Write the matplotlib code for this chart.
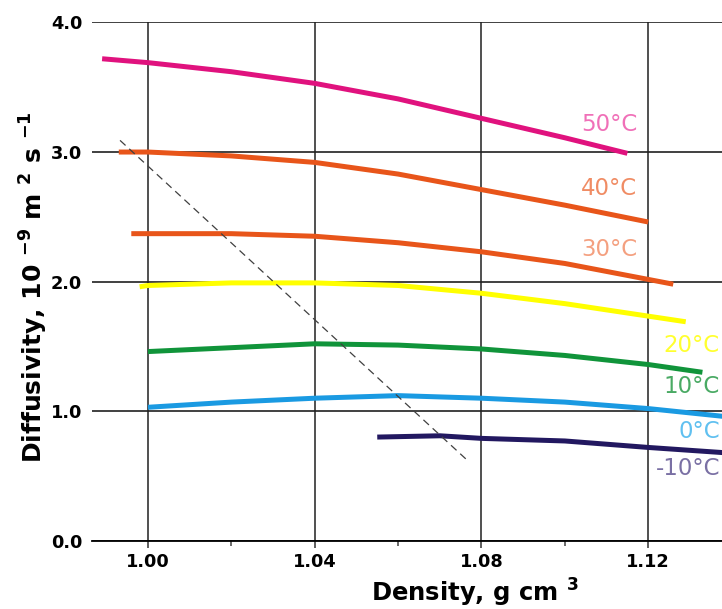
import matplotlib
matplotlib.use("Agg")
import matplotlib.pyplot as plt
from matplotlib.ticker import MultipleLocator

# diffusivity vs density, one curve per temperature
temps = ["50°C", "40°C", "30°C", "20°C", "10°C", "0°C", "-10°C"]

dens_50 = [0.989, 1.00, 1.02, 1.04, 1.06, 1.08, 1.10, 1.115]
diff_50 = [3.72, 3.69, 3.62, 3.53, 3.41, 3.26, 3.11, 2.99]

dens_40 = [0.993, 1.00, 1.02, 1.04, 1.06, 1.08, 1.10, 1.12]
diff_40 = [3.00, 3.00, 2.97, 2.92, 2.83, 2.71, 2.59, 2.46]

dens_30 = [0.996, 1.00, 1.02, 1.04, 1.06, 1.08, 1.10, 1.126]
diff_30 = [2.37, 2.37, 2.37, 2.35, 2.30, 2.23, 2.14, 1.98]

dens_20 = [0.998, 1.00, 1.02, 1.04, 1.06, 1.08, 1.10, 1.129]
diff_20 = [1.96, 1.97, 1.99, 1.99, 1.97, 1.91, 1.83, 1.69]

dens_10 = [1.00, 1.02, 1.04, 1.06, 1.08, 1.10, 1.12, 1.133]
diff_10 = [1.46, 1.49, 1.52, 1.51, 1.48, 1.43, 1.36, 1.30]

dens_0 = [1.00, 1.02, 1.04, 1.06, 1.08, 1.10, 1.12, 1.138]
diff_0 = [1.03, 1.07, 1.10, 1.12, 1.10, 1.07, 1.02, 0.96]

dens_m10 = [1.055, 1.07, 1.08, 1.10, 1.12, 1.138]
diff_m10 = [0.80, 0.81, 0.79, 0.77, 0.72, 0.68]

# dashed guide line
guide_x = [0.9933, 1.0763]
guide_y = [3.09, 0.63]

x_ticks = [1.00, 1.04, 1.08, 1.12]
y_ticks = [0.0, 1.0, 2.0, 3.0, 4.0]

line_colors = ["#e0127e", "#e8551a", "#e8551a", "#ffff00", "#10943a", "#1a9ae2", "#221860"]
label_colors = ["#f070b8", "#f08c64", "#f4a080", "#ffff30", "#4aaa64", "#60c0f0", "#7a70a4"]
label_pos = [(1.1173, 3.21), (1.1173, 2.72), (1.1173, 2.25),
             (1.1372, 1.51), (1.1372, 1.19), (1.1372, 0.84), (1.1372, 0.56)]

curves = [(dens_50, diff_50), (dens_40, diff_40), (dens_30, diff_30),
          (dens_20, diff_20), (dens_10, diff_10), (dens_0, diff_0),
          (dens_m10, diff_m10)]

plt.rcParams['font.family'] = 'DejaVu Sans'
plt.rcParams['mathtext.default'] = 'bf'

fig = plt.figure(figsize=(7.22, 6.09), dpi=100)
ax = fig.add_axes([0.1274, 0.1121, 0.8726, 0.8510])

ax.set_xlim(0.98657, 1.1377)
ax.set_ylim(0, 4.0)

ax.set_xticks(x_ticks)
ax.set_xticklabels(["%.2f" % v for v in x_ticks])
ax.xaxis.set_minor_locator(MultipleLocator(0.02))
ax.set_yticks(y_ticks)
ax.set_yticklabels(["%.1f" % v for v in y_ticks])

ax.grid(True, which='major', axis='x', color='#505050', linewidth=1.4, zorder=1)
ax.grid(True, which='major', axis='y', color='#202020', linewidth=1.2, zorder=1)
ax.set_axisbelow(True)

for s in ['top', 'right', 'left']:
    ax.spines[s].set_visible(False)
ax.spines['bottom'].set_color('black')
ax.spines['bottom'].set_linewidth(1.3)

ax.tick_params(axis='x', which='major', length=5, width=1.3, color='#505050',
               pad=4, labelsize=12.8)
ax.tick_params(axis='x', which='minor', length=3.5, width=1.2, color='#505050')
ax.tick_params(axis='y', length=0, pad=7, labelsize=12.8)
for lab in ax.get_xticklabels() + ax.get_yticklabels():
    lab.set_fontweight('bold')

for (xs, ys), c in zip(curves, line_colors):
    ax.plot(xs, ys, color=c, linewidth=3.6, solid_capstyle='butt',
            solid_joinstyle='round', zorder=3)

ax.plot(guide_x, guide_y, color='#404040', linewidth=0.9,
        dashes=(6, 4), zorder=4)

for t, c, (lx, ly) in zip(temps, label_colors, label_pos):
    ax.text(lx, ly, t, color=c, fontsize=16.5, ha='right', va='center', zorder=5)

ax.set_xlabel(r"Density, g cm $^{3}$", fontsize=17.5, fontweight='bold')
ax.xaxis.set_label_coords(0.608, -0.070)
ax.set_ylabel(r"Diffusivity, 10 $^{-9}$ m $^{2}$ s $^{-1}$", fontsize=18,
              fontweight='bold')
ax.yaxis.set_label_coords(-0.067, 0.49)

fig.savefig("out.png", dpi=100)
